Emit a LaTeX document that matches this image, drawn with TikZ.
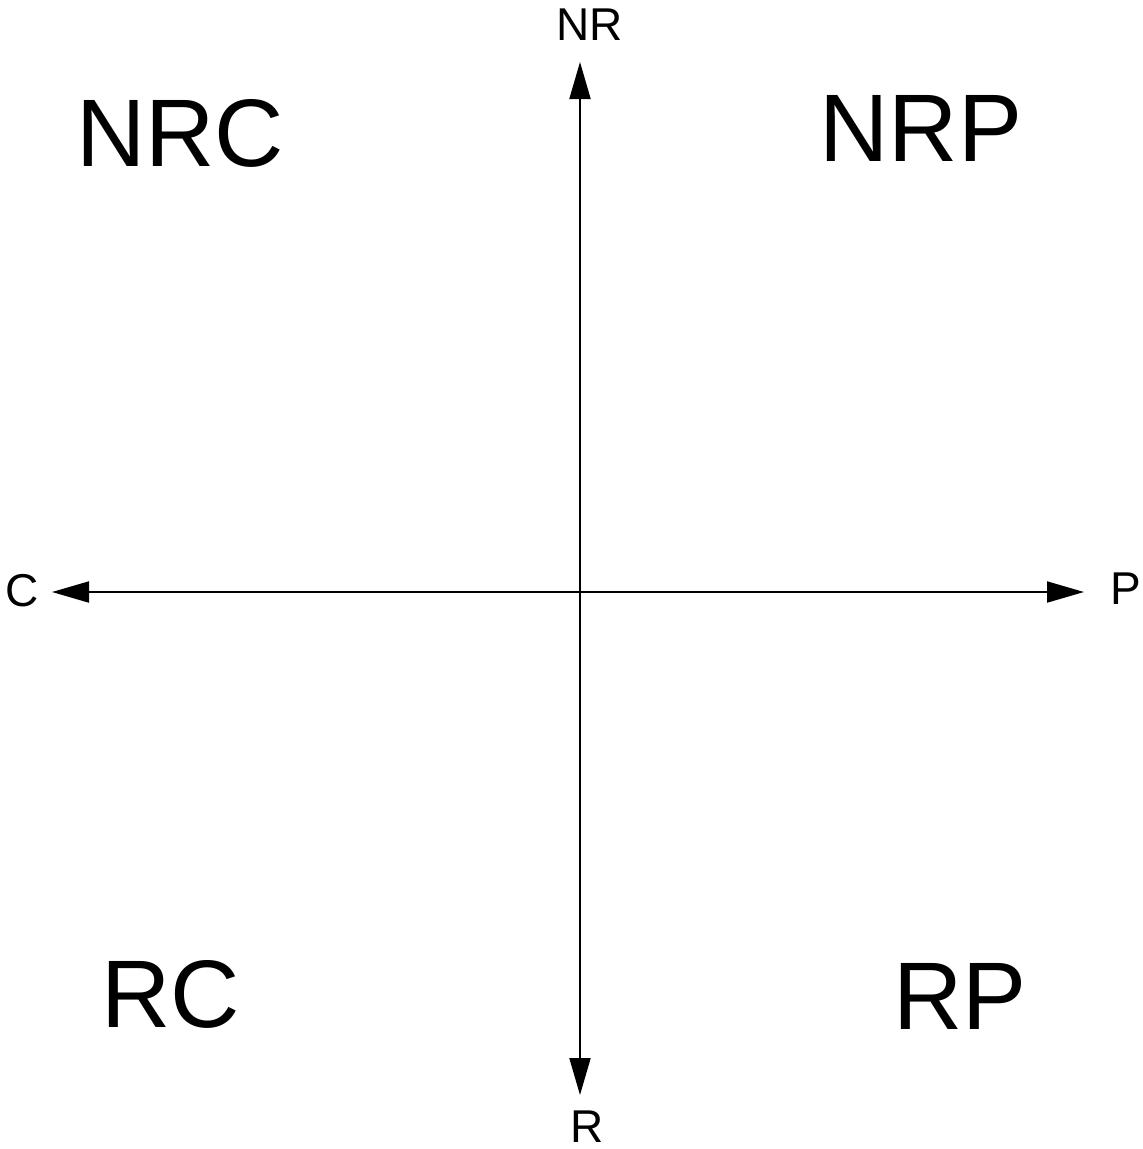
\documentclass[tikz,border=0pt]{standalone}
\usepackage{fontspec}
\setmainfont{Liberation Sans}
\usetikzlibrary{arrows.meta}
\begin{document}
\begin{tikzpicture}[x=1pt,y=-1pt,
  axis/.style={line width=2pt,{Triangle[length=37pt,width=21pt]}-{Triangle[length=37pt,width=21pt]}},
  small/.style={font=\fontsize{46}{50}\selectfont,inner sep=0pt,anchor=base},
  big/.style={font=\fontsize{96}{104}\selectfont,inner sep=0pt,anchor=base}]
\useasboundingbox[fill=white] (0,0) rectangle (1143,1149);
\coordinate (top) at (580,62);
\coordinate (bot) at (580,1095);
\coordinate (lft) at (52,592);
\coordinate (rgt) at (1084,592);
\draw[axis] (bot) -- (top);
\draw[axis] (lft) -- (rgt);
\node[small] (nr) at (590,40) {NR};
\node[small] (r) at (587,1142) {R};
\node[small] (c) at (22,606) {C};
\node[small] (p) at (1126,604) {P};
\node[big] (nrc) at (180,166) {NRC};
\node[big] (nrp) at (921,161) {NRP};
\node[big] (rc) at (171,1027) {RC};
\node[big] (rp) at (960,1029) {RP};
\end{tikzpicture}
\end{document}
